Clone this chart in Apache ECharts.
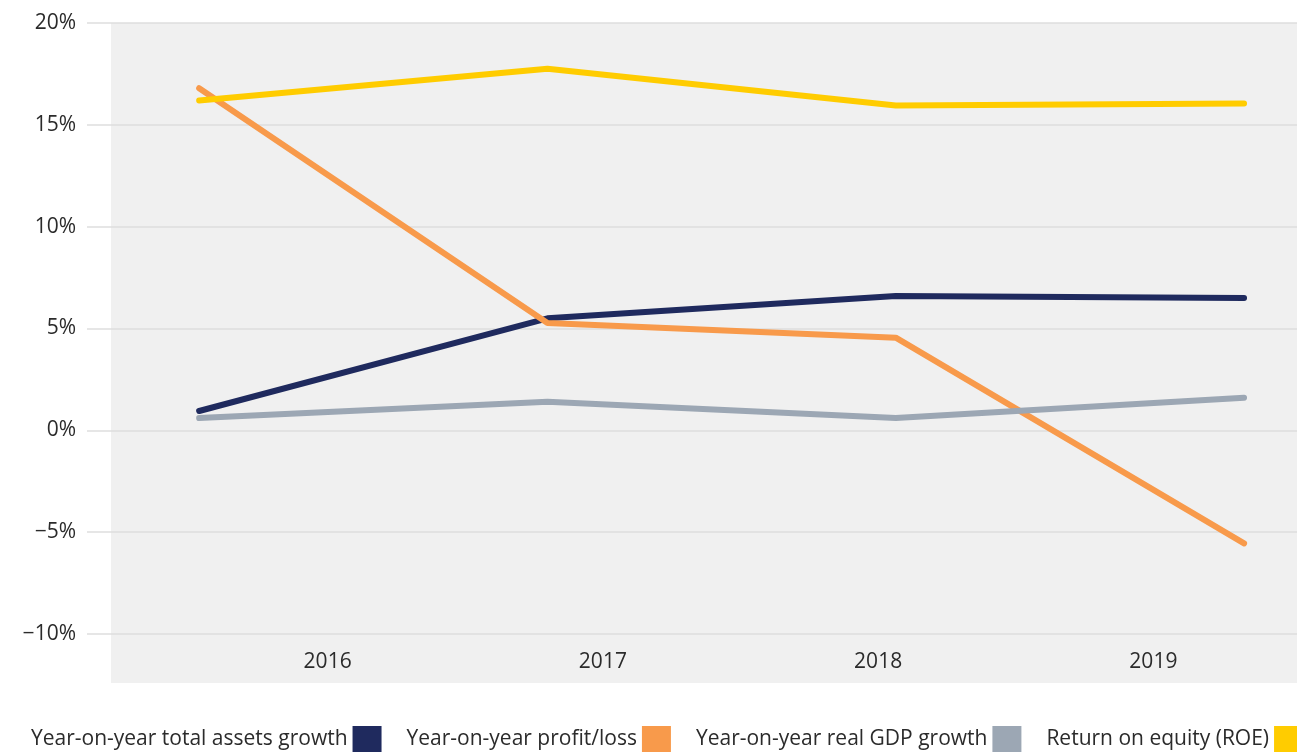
<!DOCTYPE html>
<html>
<head>
<meta charset="utf-8">
<title>Growth and ROE, 2016–2019</title>
<script src="https://cdn.jsdelivr.net/npm/echarts@6/dist/echarts.min.js"></script>
<style>
  html, body { margin: 0; padding: 0; background: #ffffff; }
  #chart { width: 1297px; height: 752px; }
</style>
</head>
<body>
<div id="chart"></div>
<script>
// Years shown on the horizontal axis
const years = ['2016', '2017', '2018', '2019'];
const yearValues = [2016, 2017, 2018, 2019];

// Series values, in percent
const totalAssetsGrowth = [0.95, 5.5, 6.6, 6.5];
const profitLoss = [16.8, 5.27, 4.55, -5.55];
const realGdpGrowth = [0.6, 1.4, 0.6, 1.6];
const returnOnEquity = [16.2, 17.75, 15.95, 16.05];

// Vertical axis ticks
const yTicks = [-10, -5, 0, 5, 10, 15, 20];

const seriesNames = [
  'Year-on-year total assets growth',
  'Year-on-year profit/loss',
  'Year-on-year real GDP growth',
  'Return on equity (ROE)'
];
const seriesColors = ['#1f2a5e', '#f89a4b', '#9ca7b4', '#ffcc00'];
const seriesValues = [totalAssetsGrowth, profitLoss, realGdpGrowth, returnOnEquity];

const FONT = '"Open Sans", "Noto Sans", sans-serif';
const TEXT = '#2b2b2b';
const FONT_SIZE = 21;

const chart = echarts.init(document.getElementById('chart'), null, { renderer: 'canvas' });

const option = {
  animation: false,
  backgroundColor: '#ffffff',
  textStyle: { fontFamily: FONT },
  graphic: [{
    type: 'rect',
    z: -100,
    silent: true,
    shape: { x: 111, y: 23, width: 1186, height: 660 },
    style: { fill: '#f0f0f0' }
  }],
  grid: [
    { left: 87, right: 0, top: 23, bottom: 118, containLabel: false },
    { left: 190, right: 6, top: 23, bottom: 118, containLabel: false }
  ],
  xAxis: [
    {
      type: 'value',
      gridIndex: 0,
      min: 2015.678,
      max: 2019.152,
      axisLine: { show: false },
      axisTick: { show: false },
      axisLabel: { show: false },
      splitLine: { show: false }
    },
    {
      type: 'category',
      gridIndex: 1,
      data: years,
      boundaryGap: true,
      axisLine: { show: false },
      axisTick: { show: false },
      splitLine: { show: false },
      axisLabel: {
        margin: 18,
        fontSize: FONT_SIZE,
        color: TEXT,
        fontFamily: FONT
      }
    }
  ],
  yAxis: [
    {
      type: 'value',
      gridIndex: 0,
      min: yTicks[0],
      max: yTicks[yTicks.length - 1],
      interval: 5,
      axisLine: { show: false },
      axisTick: { show: false },
      splitLine: { show: true, lineStyle: { color: '#dedede', width: 1.5 } },
      axisLabel: {
        margin: 11,
        fontSize: FONT_SIZE,
        color: TEXT,
        fontFamily: FONT,
        formatter: function (v) {
          return (v < 0 ? '\u2212' + Math.abs(v) : String(v)) + '%';
        }
      }
    },
    {
      type: 'value',
      gridIndex: 1,
      min: yTicks[0],
      max: yTicks[yTicks.length - 1],
      show: false
    }
  ],
  legend: {
    left: 26,
    top: 721,
    width: 1500,
    align: 'right',
    itemWidth: 29,
    itemHeight: 26,
    itemGap: 25,
    icon: 'rect',
    selectedMode: false,
    textStyle: { fontSize: FONT_SIZE, color: TEXT, fontFamily: FONT },
    data: seriesNames
  },
  series: seriesNames.map(function (name, i) {
    return {
      name: name,
      type: 'line',
      xAxisIndex: 0,
      yAxisIndex: 0,
      showSymbol: false,
      symbol: 'none',
      color: seriesColors[i],
      lineStyle: { width: 6, color: seriesColors[i], cap: 'round', join: 'round' },
      data: yearValues.map(function (y, k) { return [y, seriesValues[i][k]]; })
    };
  })
};

chart.setOption(option);
</script>
</body>
</html>
